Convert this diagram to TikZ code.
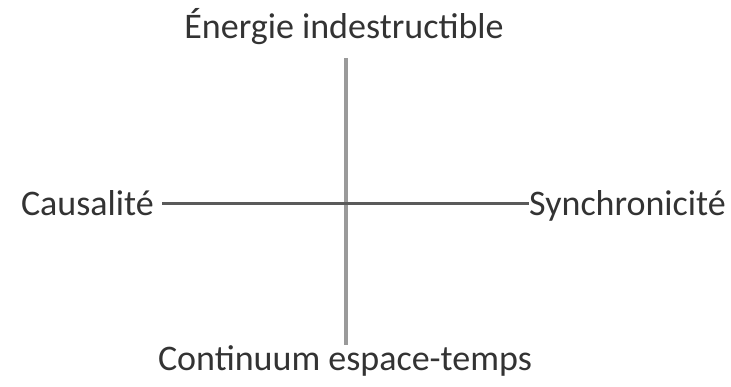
\documentclass[tikz,border=0pt]{standalone}
\usepackage{fontspec}
\setmainfont{Carlito}
\definecolor{vline}{HTML}{9A9A9A}
\definecolor{hline}{HTML}{5A5A5A}
\definecolor{txt}{HTML}{333333}
\begin{document}
\begin{tikzpicture}[x=1pt,y=-1pt,
  lbl/.style={inner sep=0pt,font=\fontsize{36}{40}\selectfont,text=txt}]
\useasboundingbox (0,0) rectangle (731,386);
\node[lbl,anchor=base] (top) at (344,38) {Énergie indestructible};
\node[lbl,anchor=base] (bot) at (345,370) {Continuum espace-temps};
\node[lbl,anchor=base east] (left) at (154,215) {Causalité};
\node[lbl,anchor=base west] (right) at (529,215) {Synchronicité};
\coordinate (vt) at (345.5,58);
\coordinate (vb) at (345.5,345);
\draw[vline,line width=4pt] (vt) -- (vb);
\draw[hline,line width=2.6pt] (left.east |- 0,203.5) ++(8,0) coordinate (hl) -- (right.west |- 0,203.5) coordinate (hr);
\end{tikzpicture}
\end{document}
